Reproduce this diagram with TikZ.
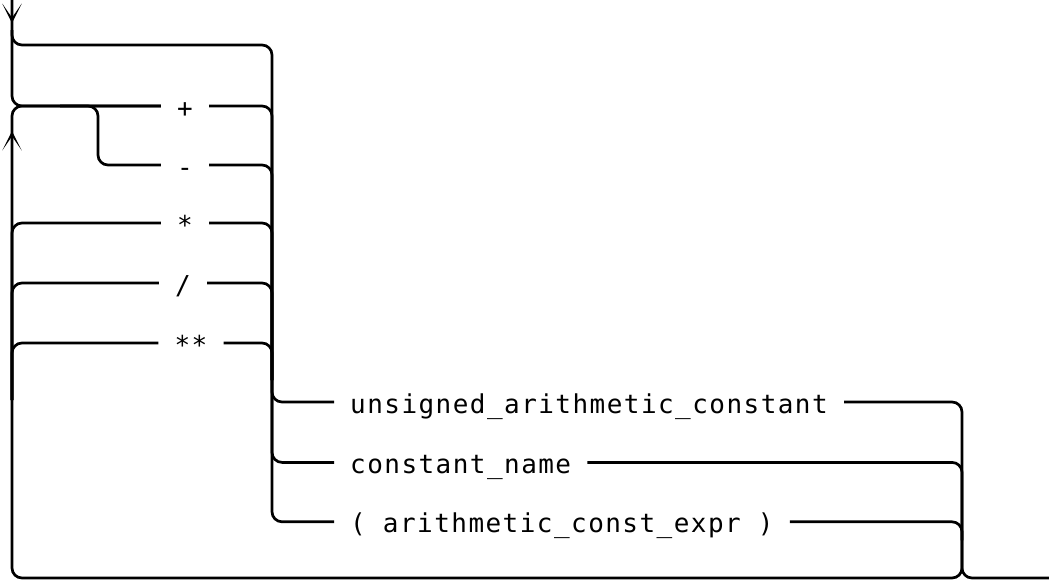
\documentclass[tikz,border=0pt]{standalone}
\usepackage{fontspec}
\usetikzlibrary{arrows.meta,positioning}
\newfontfamily\railfont[LetterSpace=5.6]{DejaVu Sans Mono}
\tikzset{
  rail/.style={line width=2.7pt,rounded corners=10pt},
  arw/.style={line width=2.7pt,-{Stealth[length=13pt,width=13pt,inset=9.5pt,line width=0pt,scale=1.5]}},
  lbl/.style={font=\railfont\fontsize{26pt}{28pt}\selectfont,inner xsep=16pt,inner ysep=0pt,text height=22pt,text depth=0pt},
}
\begin{document}
\begin{tikzpicture}[x=1pt,y=-1pt]
\path[use as bounding box,fill=white] (0,0) rectangle (1049,581);
\node[lbl] (plus) at (185,106) {+};
\node[lbl] (minus) at (185,165) {-};
\node[lbl] (times) at (185,223) {*};
\node[lbl] (slash) at (183,283) {/};
\node[lbl] (power) at (191,343) {**};
\node[lbl,anchor=west] (uac) at (334,402) {unsigned\_arithmetic\_constant};
\node[lbl,below=38pt of uac.south west,anchor=north west] (cname) {constant\_name};
\node[lbl,below=37pt of cname.south west,anchor=north west] (paren) {( arithmetic\_const\_expr )};
\coordinate (in) at (12,0);
\coordinate (adown) at (12,23);
\coordinate (byp) at (12,30);
\coordinate (b1t) at (272,45);
\coordinate (b1) at (272,380);
\coordinate (mbr) at (60,106);
\coordinate (mdrop) at (98,106);
\coordinate (lp) at (12,400);
\coordinate (b2c) at (962,540);
\coordinate (lbot) at (12,578);
\coordinate (out) at (1049,578);
\coordinate (aup0) at (12,200);
\coordinate (aup) at (12,131);
\draw[rail] (in) |- (plus);
\draw[arw] (in) -- (adown);
\draw[rail] (byp) |- (b1t) |- (paren);
\draw[rail] (mbr) -- (mdrop) |- (minus);
\foreach \n in {plus,minus,times,slash,power}
  \draw[rail] (\n) -| (b1);
\foreach \n in {times,slash,power}
  \draw[rail] (lp) |- (\n);
\draw[rail] (b1) |- (uac);
\draw[rail] (b1) |- (cname);
\foreach \n in {uac,cname,paren}
  \draw[rail] (\n) -| (b2c);
\draw[rail] (b2c) |- (lbot) |- (plus);
\draw[arw] (aup0) -- (aup);
\draw[rail] (b2c) |- (out);
\end{tikzpicture}
\end{document}
